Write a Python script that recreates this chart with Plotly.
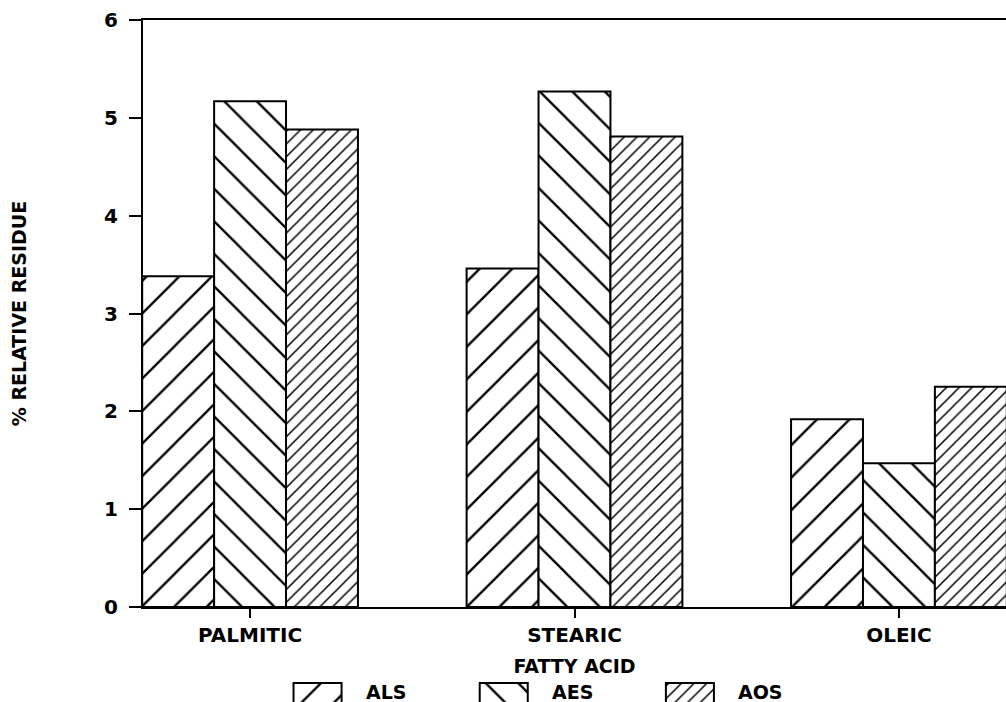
import plotly.graph_objects as go

categories = ["PALMITIC", "STEARIC", "OLEIC"]
series_names = ["ALS", "AES", "AOS"]
als = [3.38, 3.46, 1.92]
aes = [5.17, 5.27, 1.47]
aos = [4.88, 4.81, 2.25]
y_ticks = [0, 1, 2, 3, 4, 5, 6]

values = [als, aes, aos]
pat_shape = ["/", "\\", "/"]
pat_size = [23, 23, 9]
pat_sol = [0.1, 0.1, 0.17]

FONT = "DejaVu Sans"
fig = go.Figure()

for i, name in enumerate(series_names):
    fig.add_trace(go.Bar(
        x=categories, y=values[i], name=name, showlegend=False,
        marker=dict(color="white",
                    line=dict(color="black", width=2),
                    pattern=dict(shape=pat_shape[i], size=pat_size[i],
                                 solidity=pat_sol[i], fgcolor="black",
                                 bgcolor="white", fillmode="replace")),
        xaxis="x", yaxis="y"))

# custom legend swatches (large hatched boxes like the original)
for i, name in enumerate(series_names):
    fig.add_trace(go.Bar(
        x=[i], y=[2], base=[-1], width=0.258, showlegend=False,
        hoverinfo="skip",
        marker=dict(color="white",
                    line=dict(color="black", width=2),
                    pattern=dict(shape=pat_shape[i], size=pat_size[i],
                                 solidity=pat_sol[i], fgcolor="black",
                                 bgcolor="white", fillmode="replace")),
        xaxis="x2", yaxis="y2"))
    fig.add_annotation(x=i + 0.25, y=0.0145, xref="x2", yref="paper",
                       text=name, showarrow=False, xanchor="left",
                       yanchor="middle",
                       font=dict(family=FONT, size=19, color="black",
                                 weight="bold"))

fig.update_layout(
    width=1006, height=702, autosize=False,
    margin=dict(l=143, r=0, t=20, b=0),
    paper_bgcolor="white", plot_bgcolor="white",
    barmode="group", bargap=0.335, bargroupgap=0,
    showlegend=False,
    font=dict(family=FONT, color="black"),
    xaxis=dict(domain=[0, 1], anchor="y", range=[-0.33, 2.33],
               automargin=False,
               showline=True, linecolor="black", linewidth=2, mirror=True,
               ticks="outside", ticklen=9, tickwidth=2, tickcolor="black",
               showgrid=False, zeroline=False,
               tickfont=dict(family=FONT, size=20, color="black", weight="bold"),
               title=dict(text="FATTY ACID", standoff=14,
                          font=dict(family=FONT, size=19, color="black",
                                    weight="bold"))),
    yaxis=dict(domain=[0.1393, 1], anchor="x", range=[0, 6],
               automargin=False,
               tickvals=y_ticks, ticklabelstandoff=7,
               showline=True, linecolor="black", linewidth=2,
               ticks="outside", ticklen=12, tickwidth=2, tickcolor="black",
               showgrid=False, zeroline=False,
               tickfont=dict(family=FONT, size=20, color="black", weight="bold"),
               title=dict(text="% RELATIVE RESIDUE", standoff=72,
                          font=dict(family=FONT, size=19, color="black",
                                    weight="bold"))),
    xaxis2=dict(domain=[0.0944, 0.7416], anchor="y2", range=[-0.5, 2.5],
                visible=False, fixedrange=True, automargin=False),
    yaxis2=dict(domain=[0, 0.0293], anchor="x2", range=[0, 1.05],
                visible=False, fixedrange=True, automargin=False),
)

fig.write_html("out.html",
               config={"responsive": False, "displayModeBar": False},
               post_script="document.body.style.margin='0';"
                           "document.body.style.overflow='hidden';")
